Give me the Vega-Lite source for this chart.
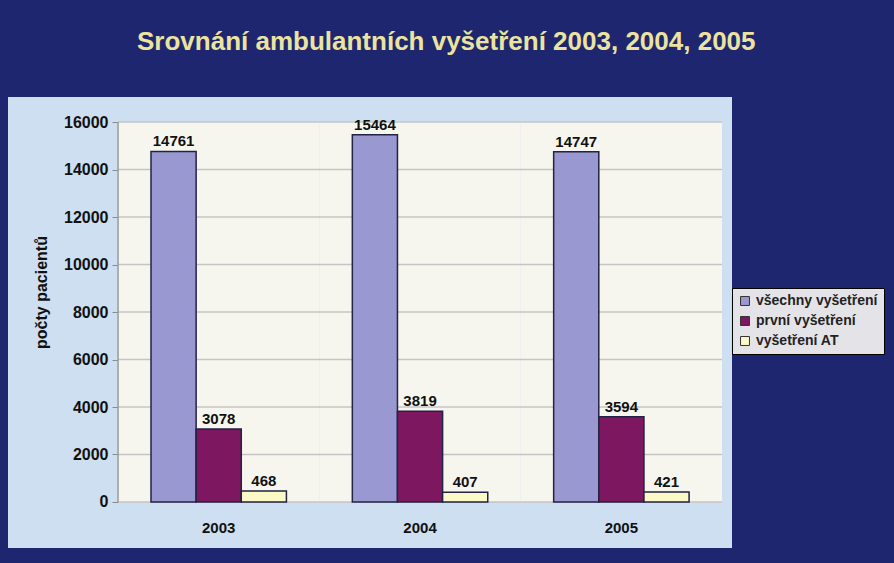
{
 "$schema": "https://vega.github.io/schema/vega-lite/v6.json",
 "width": 724,
 "height": 451,
 "autosize": {"type": "none"},
 "padding": {"left": 8, "top": 97, "right": 162, "bottom": 15},
 "background": "#1d266e",
 "title": {"text": "Srovnání ambulantních vyšetření 2003, 2004, 2005", "color": "#ece3a0", "fontSize": 26, "font": "Liberation Sans", "fontWeight": "bold", "anchor": "middle", "frame": "bounds", "offset": 42},
 "config": {"view": {"fill": "#cddff0", "stroke": null}, "font": "Liberation Sans"},
 "datasets": {
  "main": [
   {"year": "2003", "cat": "všechny vyšetření", "value": 14761},
   {"year": "2003", "cat": "první vyšetření", "value": 3078},
   {"year": "2003", "cat": "vyšetření AT", "value": 468},
   {"year": "2004", "cat": "všechny vyšetření", "value": 15464},
   {"year": "2004", "cat": "první vyšetření", "value": 3819},
   {"year": "2004", "cat": "vyšetření AT", "value": 407},
   {"year": "2005", "cat": "všechny vyšetření", "value": 14747},
   {"year": "2005", "cat": "první vyšetření", "value": 3594},
   {"year": "2005", "cat": "vyšetření AT", "value": 421}
  ],
  "years": [{"year": "2003"}, {"year": "2004"}, {"year": "2005"}],
  "grid": [{"v": 0}, {"v": 2000}, {"v": 4000}, {"v": 6000}, {"v": 8000}, {"v": 10000}, {"v": 12000}, {"v": 14000}, {"v": 16000}],
  "wall": [{"lo": 0, "hi": 16000}]
 },
 "layer": [
  {
   "data": {"name": "years"},
   "mark": {"type": "rect", "fill": "#f7f6ee"},
   "encoding": {
    "x": {"field": "year", "type": "nominal", "scale": {"paddingInner": 0, "paddingOuter": 0.298, "align": 0.917},
     "axis": {"title": null, "offset": -46, "labelAngle": 0, "ticks": false, "domain": false, "labelPadding": 18, "labelFont": "Liberation Sans", "labelFontWeight": "bold", "labelFontSize": 15, "labelColor": "#111"}},
    "y": {"datum": 0, "type": "quantitative", "scale": {"domain": [-1937, 17053], "nice": false, "zero": false},
     "axis": {"title": "počty pacientů", "format": "d", "values": [0, 2000, 4000, 6000, 8000, 10000, 12000, 14000, 16000], "offset": -110, "grid": false, "domain": false, "tickColor": "#8a8a8a", "tickSize": 6, "labelPadding": 4, "labelFont": "Liberation Sans", "labelFontWeight": "bold", "labelFontSize": 16, "labelColor": "#111", "titleFont": "Liberation Sans", "titleFontWeight": "bold", "titleFontSize": 16, "titleColor": "#111", "titlePadding": 14, "titleY": 195}},
    "y2": {"datum": 16000}
   }
  },
  {
   "data": {"name": "grid"},
   "mark": {"type": "rule", "color": "#c4c4c4", "strokeWidth": 1.5},
   "encoding": {
    "y": {"field": "v", "type": "quantitative"},
    "x": {"datum": "2003", "bandPosition": 0},
    "x2": {"datum": "2005", "bandPosition": 1}
   }
  },
  {
   "data": {"name": "wall"},
   "mark": {"type": "rule", "color": "#9a9a9a", "strokeWidth": 1.5},
   "encoding": {
    "x": {"datum": "2003", "bandPosition": 0},
    "y": {"field": "lo", "type": "quantitative"},
    "y2": {"field": "hi"}
   }
  },
  {
   "data": {"name": "main"},
   "mark": {"type": "bar", "stroke": "#222244", "strokeWidth": 1.5},
   "encoding": {
    "x": {"field": "year", "type": "nominal"},
    "xOffset": {"field": "cat", "type": "nominal", "scale": {"domain": ["všechny vyšetření", "první vyšetření", "vyšetření AT"], "paddingInner": 0, "paddingOuter": 0.73}},
    "y": {"field": "value", "type": "quantitative"},
    "color": {"field": "cat", "type": "nominal",
     "scale": {"domain": ["všechny vyšetření", "první vyšetření", "vyšetření AT"], "range": ["#9a98d0", "#7d1860", "#fbfac6"]},
     "legend": {"orient": "none", "legendX": 724, "legendY": 191, "title": null, "fillColor": "#e4e4e8", "strokeColor": "#000", "padding": 6, "symbolType": "square", "symbolSize": 80, "symbolStrokeColor": "#333", "symbolStrokeWidth": 1, "labelFont": "Liberation Sans", "labelFontWeight": "bold", "labelFontSize": 14, "labelColor": "#222", "rowPadding": 6, "labelLimit": 220}}
   }
  },
  {
   "data": {"name": "main"},
   "mark": {"type": "text", "dy": -10, "fontSize": 15, "fontWeight": "bold", "font": "Liberation Sans", "color": "#111"},
   "encoding": {
    "x": {"field": "year", "type": "nominal"},
    "xOffset": {"field": "cat", "type": "nominal"},
    "y": {"field": "value", "type": "quantitative"},
    "text": {"field": "value", "type": "quantitative", "format": "d"}
   }
  }
 ]
}
